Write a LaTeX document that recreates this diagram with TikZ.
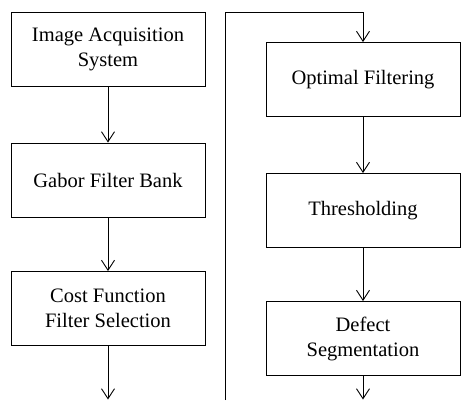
\documentclass[tikz,border=0pt]{standalone}
\usepackage{fontspec}
\setmainfont{Liberation Serif}
\usetikzlibrary{arrows.meta}
\begin{document}
\begin{tikzpicture}[x=1pt,y=-1pt,
            stage/.style={draw,line width=0.9pt,minimum width=194pt,minimum height=74pt,
                inner sep=0pt,align=center,font=\fontsize{20.5}{25}\selectfont},
            flow/.style={line width=0.9pt,-{Straight Barb[length=10pt,width=13pt,line width=0.9pt]}}]
            \useasboundingbox (0,0) rectangle (461,400);
            \node[stage] (acq) at (108,49) {Image Acquisition\\System};
            \node[stage] (gabor) at (108,180) {Gabor Filter Bank};
            \node[stage] (cost) at (108,308.5) {Cost Function\\Filter Selection};
            \node[stage] (opt) at (363,79.5) {Optimal Filtering};
            \node[stage] (thr) at (363,210.5) {Thresholding};
            \node[stage] (seg) at (363,338.5) {Defect\\Segmentation};
            \coordinate (leftend) at (108,399.5);
            \coordinate (rightstart) at (225,400);
            \coordinate (topturn) at (225,12);
            \coordinate (rightend) at (363,399.5);
            \draw[flow] (acq) -- (gabor);
            \draw[flow] (gabor) -- (cost);
            \draw[flow] (cost) -- (leftend);
            \draw[flow] (rightstart) -- (topturn) -| (opt.north);
            \draw[flow] (opt) -- (thr);
            \draw[flow] (thr) -- (seg);
            \draw[flow] (seg) -- (rightend);
        \end{tikzpicture}
\end{document}
